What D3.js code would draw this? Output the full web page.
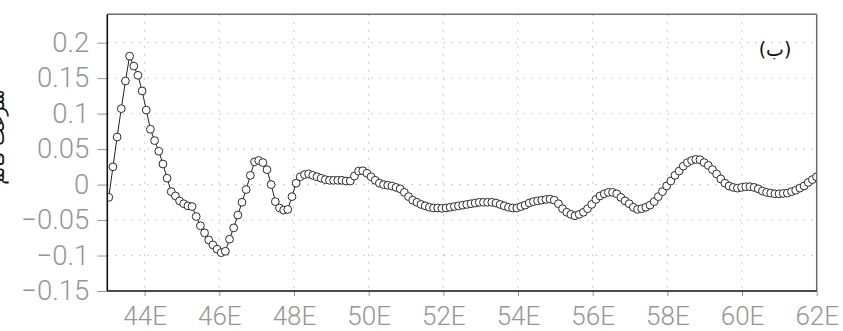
<!DOCTYPE html>
<html>
<head>
<meta charset="utf-8">
<script src="https://cdn.jsdelivr.net/npm/d3@7"></script>
<style>
  html, body { margin: 0; padding: 0; background: #fff; }
  svg { display: block; }
  .tick text { font-family: Roboto, "DejaVu Sans", sans-serif; font-weight: 300; fill: #959595; }
</style>
</head>
<body>
<svg id="chart" width="843" height="331"></svg>
<script>
// Longitude grid of the profile (degrees east)
const lonStart = 43.04;
const lonStep = 0.1115;

// Profile values along the section, west to east
const values = [
  -0.018, 0.025, 0.067, 0.107, 0.146, 0.181, 0.167, 0.154, 0.132, 0.105,
   0.078, 0.062, 0.047, 0.029, 0.009, -0.010, -0.016, -0.023, -0.027, -0.030,
  -0.031, -0.045, -0.058, -0.068, -0.078, -0.085, -0.091, -0.096, -0.094, -0.077,
  -0.061, -0.043, -0.025, -0.007, 0.013, 0.032, 0.034, 0.031, 0.021, 0.000,
  -0.024, -0.033, -0.036, -0.035, -0.017, 0.002, 0.011, 0.014, 0.015, 0.013,
   0.011, 0.009, 0.007, 0.006, 0.006, 0.006, 0.006, 0.005, 0.005, 0.012,
   0.019, 0.0195, 0.016, 0.011, 0.006, 0.002, 0.000, -0.001, -0.002, -0.004,
  -0.006, -0.011, -0.017, -0.022, -0.025, -0.028, -0.030, -0.032, -0.033, -0.033,
  -0.0335, -0.033, -0.032, -0.031, -0.030, -0.029, -0.028, -0.027, -0.026, -0.025,
  -0.025, -0.025, -0.025, -0.026, -0.028, -0.030, -0.032, -0.033, -0.033, -0.031,
  -0.029, -0.026, -0.024, -0.023, -0.022, -0.021, -0.0205, -0.022, -0.027, -0.034,
  -0.039, -0.042, -0.044, -0.042, -0.039, -0.034, -0.028, -0.021, -0.016, -0.013,
  -0.011, -0.011, -0.013, -0.018, -0.023, -0.027, -0.032, -0.035, -0.034, -0.032,
  -0.029, -0.024, -0.017, -0.010, -0.002, 0.005, 0.013, 0.019, 0.026, 0.031,
   0.034, 0.0355, 0.035, 0.031, 0.027, 0.021, 0.015, 0.008, 0.002, -0.002,
  -0.004, -0.005, -0.004, -0.003, -0.003, -0.004, -0.006, -0.009, -0.011, -0.012,
  -0.013, -0.013, -0.0125, -0.012, -0.010, -0.008, -0.005, -0.002, 0.003, 0.007,
   0.011
];

// Axis ticks
const xTicks = [44, 46, 48, 50, 52, 54, 56, 58, 60, 62];
const yTicks = [-0.15, -0.1, -0.05, 0, 0.05, 0.1, 0.15, 0.2];

// Texts
const panelLabel = "(ب)";
const yTitle = "سرعت قائم";

const points = values.map((v, i) => ({ lon: lonStart + i * lonStep, v }));

const svg = d3.select("#chart");
const plotL = 107.3, plotR = 816.7, plotT = 14.3, plotB = 291;

const x = d3.scaleLinear().domain([43, 62]).range([plotL, plotR]);
const y = d3.scaleLinear().domain([-0.15, 0.24]).range([plotB, plotT]);

// Dotted grid
const grid = svg.append("g").attr("stroke", "#bdbdbd").attr("stroke-width", 1)
  .attr("stroke-dasharray", "1.5,6.5");
grid.selectAll("line.v").data(xTicks.filter(t => t < 62)).join("line")
  .attr("x1", d => x(d)).attr("x2", d => x(d)).attr("y1", plotT).attr("y2", plotB);
grid.selectAll("line.h").data(yTicks.filter(t => t > -0.15)).join("line")
  .attr("x1", plotL).attr("x2", plotR).attr("y1", d => y(d)).attr("y2", d => y(d));

// Axes
const yAxis = svg.append("g").attr("transform", `translate(${plotL},0)`)
  .call(d3.axisLeft(y).tickValues(yTicks).tickSize(10).tickPadding(8).tickFormat(d3.format("~g")));
yAxis.select(".domain").remove();
yAxis.selectAll(".tick line").attr("stroke", "#959595");
yAxis.selectAll(".tick text").attr("font-size", 27.5);

const xAxis = svg.append("g").attr("transform", `translate(0,${plotB})`)
  .call(d3.axisBottom(x).tickValues(xTicks).tickSize(5).tickPadding(10.5).tickFormat(d => d + "E"));
xAxis.select(".domain").remove();
xAxis.selectAll(".tick line").attr("stroke", "#959595");
xAxis.selectAll(".tick text").attr("font-size", 26);

// Clip for marks
svg.append("clipPath").attr("id", "plotclip").append("rect")
  .attr("x", plotL).attr("y", plotT).attr("width", plotR - plotL).attr("height", plotB - plotT);

const marks = svg.append("g").attr("clip-path", "url(#plotclip)");
marks.append("path").datum(points)
  .attr("fill", "none").attr("stroke", "#222").attr("stroke-width", 1)
  .attr("d", d3.line().x(d => x(d.lon)).y(d => y(d.v)));
marks.selectAll("circle").data(points).join("circle")
  .attr("cx", d => x(d.lon)).attr("cy", d => y(d.v)).attr("r", 3.9)
  .attr("fill", "#fff").attr("stroke", "#2a2a2a").attr("stroke-width", 1);

// Frame: dark left/bottom, grey top/right
svg.append("line").attr("x1", plotL).attr("x2", plotR).attr("y1", plotT).attr("y2", plotT)
  .attr("stroke", "#6e6e6e").attr("stroke-width", 1.5);
svg.append("line").attr("x1", plotR).attr("x2", plotR).attr("y1", plotT).attr("y2", plotB)
  .attr("stroke", "#6e6e6e").attr("stroke-width", 1.5);
svg.append("line").attr("x1", plotL).attr("x2", plotL).attr("y1", plotT).attr("y2", plotB)
  .attr("stroke", "#111").attr("stroke-width", 1.6);
svg.append("line").attr("x1", plotL).attr("x2", plotR).attr("y1", plotB).attr("y2", plotB)
  .attr("stroke", "#111").attr("stroke-width", 1.6);

// Panel label
svg.append("text").attr("x", 775).attr("y", 56).attr("text-anchor", "middle")
  .attr("font-family", "'DejaVu Sans', sans-serif").attr("font-size", 19).attr("fill", "#111")
  .text(panelLabel);

// Y title, mostly off the left edge
svg.append("text").attr("transform", "translate(4,137) rotate(-90)")
  .attr("text-anchor", "middle").attr("font-family", "'DejaVu Sans', sans-serif")
  .attr("font-size", 19).attr("fill", "#111").text(yTitle);
</script>
</body>
</html>
